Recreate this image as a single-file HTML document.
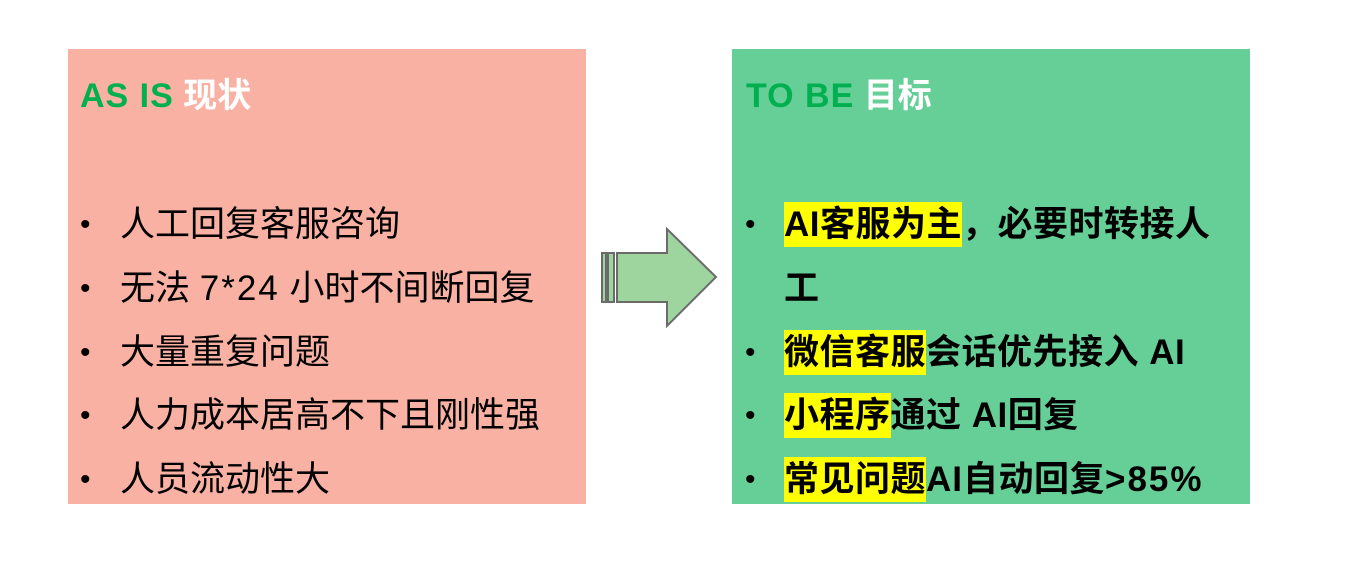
<!DOCTYPE html>
<html><head><meta charset="utf-8"><style>
body{margin:0;width:1359px;height:563px;background:#fff;position:relative;font-family:"Liberation Sans","Noto Sans CJK SC",sans-serif;overflow:hidden}
.box{position:absolute;top:49px;width:518px;height:455px}
.t{position:absolute;font-size:34px;font-weight:bold;line-height:40px;top:76px}
.t span.e{letter-spacing:1px}
.l{position:absolute;font-size:35px;line-height:48px;white-space:nowrap;margin-top:3px}
.b{position:absolute;font-size:30px;line-height:48px;margin-top:3px}
.h{background:#ffff00;padding:3px 0}
.r .l{font-weight:bold;letter-spacing:0.5px}
</style></head><body>
<div class="box" style="left:68px;background:#F9B1A4"></div>
<div class="box r" style="left:732px;background:#66CF97"></div>
<div class="t" style="left:80px"><span class="e" style="color:#00B050">AS IS</span> <span style="color:#fff">现状</span></div>
<div class="t" style="left:746px"><span class="e" style="color:#00B050">TO BE</span> <span style="color:#fff">目标</span></div>

<div class="b" style="left:80px;top:198px">•</div><div class="l" style="left:120px;top:198px">人工回复客服咨询</div>
<div class="b" style="left:80px;top:262px">•</div><div class="l" style="left:120px;top:262px">无法 <span style="letter-spacing:2px">7*24</span> 小时不间断回复</div>
<div class="b" style="left:80px;top:326px">•</div><div class="l" style="left:120px;top:326px">大量重复问题</div>
<div class="b" style="left:80px;top:389px">•</div><div class="l" style="left:120px;top:389px">人力成本居高不下且刚性强</div>
<div class="b" style="left:80px;top:453px">•</div><div class="l" style="left:120px;top:453px">人员流动性大</div>

<div class="r">
<div class="b" style="left:745px;top:198px">•</div><div class="l" style="left:784px;top:198px"><span class="h">AI客服为主</span>，必要时转接人</div>
<div class="l" style="left:784px;top:262px">工</div>
<div class="b" style="left:745px;top:326px">•</div><div class="l" style="left:784px;top:326px"><span class="h">微信客服</span>会话优先接入 AI</div>
<div class="b" style="left:745px;top:389px">•</div><div class="l" style="left:784px;top:389px"><span class="h">小程序</span>通过 AI回复</div>
<div class="b" style="left:745px;top:453px">•</div><div class="l" style="left:784px;top:453px"><span class="h">常见问题</span><span style="letter-spacing:1px">AI</span>自动回复<span style="letter-spacing:2px">&gt;85%</span></div>
</div>

<svg style="position:absolute;left:0;top:0" width="1359" height="563">
<g fill="#9ED49E" stroke="#6b6b6b" stroke-width="2">
<rect x="602" y="253" width="4" height="49"/>
<rect x="608" y="253" width="6" height="49"/>
<polygon points="617,253 667,253 667,229 716,277 667,326 667,302 617,302"/>
</g></svg>
</body></html>
